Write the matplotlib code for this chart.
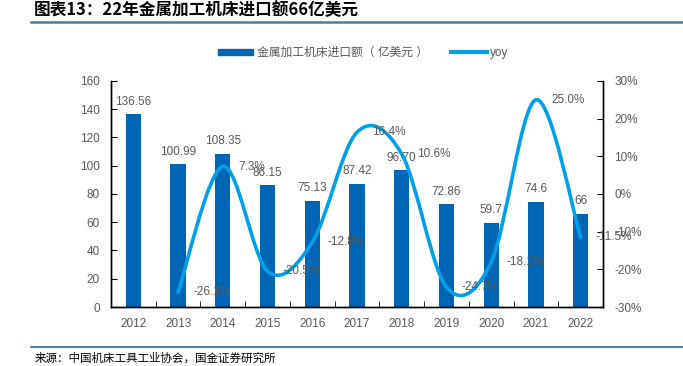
import matplotlib
matplotlib.use("Agg")
import matplotlib.pyplot as plt
from matplotlib.path import Path
from matplotlib.patches import PathPatch
from matplotlib.lines import Line2D
from matplotlib.patches import Patch

plt.rcParams['font.family'] = ['Liberation Sans', 'Noto Sans CJK SC']

# -------------------------------
# Data
# -------------------------------
years = ["2012", "2013", "2014", "2015", "2016", "2017", "2018", "2019", "2020", "2021", "2022"]
imports = [136.56, 100.99, 108.35, 86.15, 75.13, 87.42, 96.70, 72.86, 59.7, 74.6, 66]
import_labels = ["136.56", "100.99", "108.35", "86.15", "75.13", "87.42", "96.70", "72.86", "59.7", "74.6", "66"]
yoy_years = years[1:]
yoy = [-26.1, 7.3, -20.5, -12.8, 16.4, 10.6, -24.7, -18.1, 25.0, -11.5]

bar_color = "#0066B3"
line_color = "#00A0E9"
text_color = "#595959"

fig = plt.figure(figsize=(6.83, 3.66), dpi=100)
ax = fig.add_axes([0.1625, 0.1612, 0.7204, 0.6175])
ax2 = ax.twinx()

# -------------------------------
# Bars
# -------------------------------
x = list(range(len(years)))
ax.bar(x, imports, width=0.34, color=bar_color, zorder=2)
for xi, v, lab in zip(x, imports, import_labels):
    ax.annotate(lab, (xi, v), xytext=(0, 9), textcoords="offset points",
                ha="center", va="center", fontsize=8.5, color=text_color)

ax.set_xlim(-0.5, len(years) - 0.5)
ax.set_ylim(0, 160)
ax.set_yticks(range(0, 161, 20))
ax.set_xticks(x)
ax.set_xticklabels(years)
ax.set_xticks([i + 0.5 for i in x[:-1]], minor=True)
ax.tick_params(axis="x", which="major", length=0, pad=8, labelsize=8.5, labelcolor=text_color)
ax.tick_params(axis="x", which="minor", length=4, direction="in", color="black")
ax.tick_params(axis="y", length=4, direction="in", pad=8, labelsize=8.5, labelcolor=text_color)

# -------------------------------
# Smoothed yoy line (bezier path through the points)
# -------------------------------
xs = [years.index(y) for y in yoy_years]
pts = list(zip(xs, yoy))
verts = [pts[0]]
codes = [Path.MOVETO]
for i in range(len(pts) - 1):
    p0 = pts[i - 1] if i > 0 else pts[i]
    p1 = pts[i]
    p2 = pts[i + 1]
    p3 = pts[i + 2] if i + 2 < len(pts) else pts[i + 1]
    c1 = (p1[0] + (p2[0] - p0[0]) / 6, p1[1] + (p2[1] - p0[1]) / 6)
    c2 = (p2[0] - (p3[0] - p1[0]) / 6, p2[1] - (p3[1] - p1[1]) / 6)
    verts += [c1, c2, p2]
    codes += [Path.CURVE4] * 3
ax2.add_patch(PathPatch(Path(verts, codes), fill=False, edgecolor=line_color,
                        lw=2.6, capstyle="round", zorder=3))

for xi, v in zip(xs, yoy):
    ax2.annotate(f"{v:.1f}%", (xi, v), xytext=(11, 0), textcoords="offset points",
                 ha="left", va="center", fontsize=8.5, color=text_color)

ax2.set_ylim(-30, 30)
ax2.set_yticks(range(-30, 31, 10))
ax2.set_yticklabels([f"{t}%" for t in range(-30, 31, 10)])
ax2.tick_params(axis="y", length=4, direction="in", pad=8, labelsize=8.5, labelcolor=text_color)

for a in (ax, ax2):
    a.spines["top"].set_visible(False)
    for s in ("left", "right", "bottom"):
        a.spines[s].set_color("black")
        a.spines[s].set_linewidth(1)

# -------------------------------
# Legend
# -------------------------------
handles = [Patch(color=bar_color), Line2D([0], [0], color=line_color, lw=3)]
fig.legend(handles, ["金属加工机床进口额（ 亿美元 ）", "yoy"], loc="center",
           bbox_to_anchor=(0.532, 0.855), ncol=2, frameon=False, fontsize=8.5,
           labelcolor=text_color, handlelength=3.0, handleheight=0.5,
           handletextpad=0.3, columnspacing=2.0)

# -------------------------------
# Title, rules and source
# -------------------------------
fig.text(0.05, 0.972, "图表13：22年金属加工机床进口额66亿美元", fontsize=12,
         fontweight="bold", style="italic", family=["Noto Sans CJK SC"],
         ha="left", va="center", color="black")
fig.add_artist(Line2D([0.045, 1.0], [0.94, 0.94], color="#4F7C9B", lw=1.8))
fig.add_artist(Line2D([0.045, 1.0], [0.052, 0.052], color="#2F6C90", lw=1.2))
fig.text(0.05, 0.022, "来源：中国机床工具工业协会，国金证券研究所", fontsize=8.3,
         family=["Noto Sans CJK SC"], ha="left", va="center", color="black")

fig.savefig("out.png", dpi=100)
